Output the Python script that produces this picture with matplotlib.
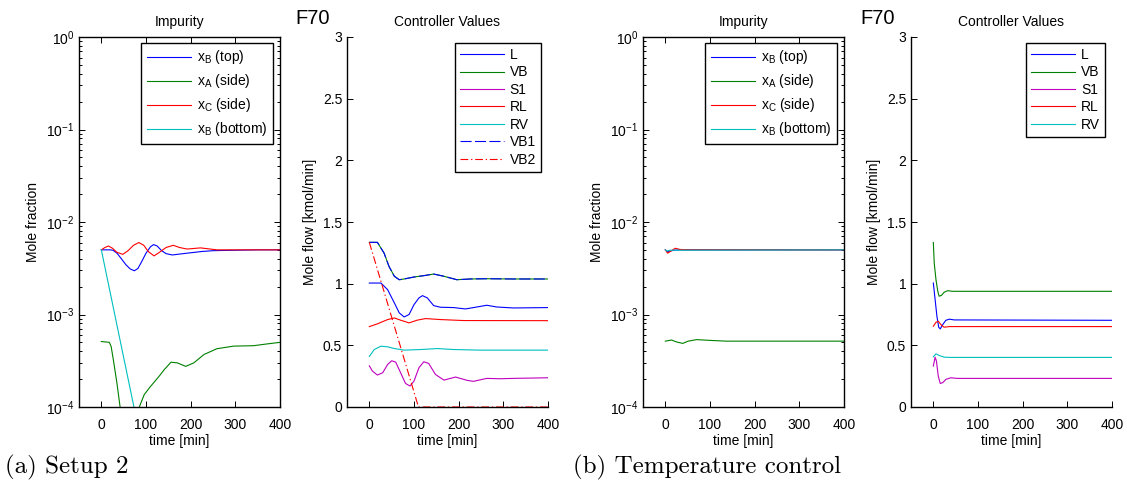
import matplotlib
matplotlib.use("Agg")
import matplotlib.pyplot as plt
from matplotlib.ticker import LogLocator, NullFormatter

plt.rcParams['font.family'] = ['Liberation Sans', 'DejaVu Sans']
plt.rcParams['mathtext.default'] = 'regular'
plt.rcParams['mathtext.fontset'] = 'custom'
plt.rcParams['mathtext.rm'] = 'Liberation Sans'
plt.rcParams['mathtext.it'] = 'Liberation Sans'

# ---------------- colours (MATLAB style) ----------------
C_BLUE = (0, 0, 1)
C_GREEN = (0, 0.5, 0)
C_RED = (1, 0, 0)
C_CYAN = (0, 0.75, 0.75)
C_MAG = (0.75, 0, 0.75)

# ---------------- data: (a) Setup 2, impurity ----------------
a_xB_top_t = [0, 10, 20, 26, 35, 45, 55, 65, 74, 82, 90, 100, 110, 117, 125, 135, 145, 159, 175, 200, 225, 251, 300, 350, 400]
a_xB_top_v = [5.0e-3, 5.0e-3, 5.0e-3, 4.95e-3, 4.6e-3, 4.0e-3, 3.45e-3, 3.1e-3, 2.97e-3, 3.15e-3, 3.7e-3, 4.6e-3, 5.4e-3, 5.7e-3, 5.5e-3, 4.9e-3, 4.55e-3, 4.4e-3, 4.5e-3, 4.65e-3, 4.8e-3, 4.9e-3, 4.95e-3, 5.0e-3, 5.0e-3]

a_xA_side_t = [0, 10, 18, 22, 28, 35, 42, 48, 80, 85, 96, 108, 120, 131, 141, 156, 170, 189, 207, 230, 259, 296, 341, 370, 400]
a_xA_side_v = [5.1e-4, 5.05e-4, 5.0e-4, 4.5e-4, 3.0e-4, 1.8e-4, 1.0e-4, 6.5e-5, 7.0e-5, 1.0e-4, 1.36e-4, 1.62e-4, 1.9e-4, 2.2e-4, 2.54e-4, 3.05e-4, 3.0e-4, 2.75e-4, 3.0e-4, 3.7e-4, 4.27e-4, 4.55e-4, 4.6e-4, 4.8e-4, 5.0e-4]

a_xC_side_t = [0, 8, 16, 25, 35, 48, 60, 72, 84, 95, 105, 118, 130, 145, 161, 175, 192, 222, 259, 300, 400]
a_xC_side_v = [5.0e-3, 5.3e-3, 5.5e-3, 5.2e-3, 4.7e-3, 4.47e-3, 4.9e-3, 5.6e-3, 6.0e-3, 5.6e-3, 4.8e-3, 4.3e-3, 4.7e-3, 5.3e-3, 5.6e-3, 5.3e-3, 5.1e-3, 5.25e-3, 5.0e-3, 5.0e-3, 5.0e-3]

a_xB_bot_t = [0, 73, 80]
a_xB_bot_v = [5.0e-3, 1.0e-4, 6.9e-5]

# ---------------- data: (a) Setup 2, controller values ----------------
a_L_t = [0, 26, 41, 56, 67, 78, 89, 100, 111, 119, 130, 144, 159, 189, 215, 233, 263, 285, 322, 400]
a_L_v = [1.005, 1.005, 0.951, 0.844, 0.763, 0.730, 0.750, 0.830, 0.884, 0.903, 0.884, 0.822, 0.809, 0.806, 0.795, 0.806, 0.825, 0.811, 0.803, 0.806]

a_VB_t = [0, 18, 33, 44, 56, 67, 78, 100, 122, 144, 167, 196, 226, 263, 322, 400]
a_VB_v = [1.335, 1.335, 1.248, 1.140, 1.060, 1.032, 1.038, 1.054, 1.065, 1.078, 1.060, 1.032, 1.038, 1.040, 1.038, 1.038]

a_S1_t = [0, 7, 18, 30, 41, 50, 59, 70, 81, 91, 100, 111, 122, 133, 148, 167, 193, 219, 233, 263, 293, 322, 400]
a_S1_v = [0.334, 0.291, 0.259, 0.278, 0.345, 0.375, 0.364, 0.278, 0.191, 0.170, 0.210, 0.318, 0.367, 0.353, 0.264, 0.218, 0.243, 0.216, 0.208, 0.232, 0.229, 0.232, 0.237]

a_RL_t = [0, 18, 41, 56, 70, 89, 107, 126, 159, 211, 400]
a_RL_v = [0.652, 0.674, 0.709, 0.722, 0.704, 0.682, 0.704, 0.717, 0.709, 0.701, 0.700]

a_RV_t = [0, 11, 26, 41, 56, 78, 115, 152, 189, 248, 400]
a_RV_v = [0.410, 0.466, 0.493, 0.488, 0.474, 0.461, 0.466, 0.474, 0.466, 0.461, 0.461]

a_VB1_t = a_VB_t
a_VB1_v = a_VB_v

a_VB2_t = [0, 110, 400]
a_VB2_v = [1.335, 0.0, 0.0]

# ---------------- data: (b) Temperature control, impurity ----------------
b_xB_top_t = [0, 4.5, 14, 30, 400]
b_xB_top_v = [5.0e-3, 4.75e-3, 4.9e-3, 5.0e-3, 5.0e-3]

b_xA_side_t = [0, 14, 25, 39, 51, 70, 100, 137, 400]
b_xA_side_v = [5.15e-4, 5.3e-4, 5.05e-4, 4.87e-4, 5.15e-4, 5.35e-4, 5.25e-4, 5.15e-4, 5.15e-4]

b_xC_side_t = [0, 5, 14, 22, 33, 50, 400]
b_xC_side_v = [5.0e-3, 4.6e-3, 4.9e-3, 5.2e-3, 5.05e-3, 5.0e-3, 5.0e-3]

b_xB_bot_t = [0, 3, 10, 400]
b_xB_bot_v = [5.0e-3, 4.85e-3, 4.95e-3, 5.0e-3]

# ---------------- data: (b) Temperature control, controller values ----------------
b_L_t = [0, 4, 8, 12, 15.5, 21, 28, 36, 47, 400]
b_L_v = [1.005, 0.871, 0.736, 0.647, 0.633, 0.668, 0.703, 0.712, 0.706, 0.703]

b_VB_t = [0, 2, 6, 10, 13, 18.5, 24, 32, 43, 400]
b_VB_v = [1.334, 1.167, 1.030, 0.938, 0.898, 0.906, 0.930, 0.943, 0.938, 0.938]

b_S1_t = [0, 4, 7, 11, 15.5, 21, 28, 39, 54, 400]
b_S1_v = [0.332, 0.404, 0.372, 0.251, 0.191, 0.197, 0.224, 0.237, 0.232, 0.232]

b_RL_t = [0, 6, 11, 17, 24, 36, 400]
b_RL_v = [0.655, 0.687, 0.695, 0.668, 0.647, 0.652, 0.652]

b_RV_t = [0, 6, 13, 24, 39, 400]
b_RV_v = [0.407, 0.431, 0.418, 0.404, 0.402, 0.402]

imp_labels = [r'x$_{B}$ (top)', r'x$_{A}$ (side)', r'x$_{C}$ (side)', r'x$_{B}$ (bottom)']
ctrl_labels_a = ['L', 'VB', 'S1', 'RL', 'RV', 'VB1', 'VB2']
ctrl_labels_b = ['L', 'VB', 'S1', 'RL', 'RV']
xticks = [0, 100, 200, 300, 400]
flow_ticks = [0, 0.5, 1, 1.5, 2, 2.5, 3]
caption_a = '(a) Setup 2'
caption_b = '(b) Temperature control'

FS = 10
LW = 0.8

fig = plt.figure(figsize=(11.27, 4.88), dpi=100)
W, H = 1127.0, 488.0

def ax_at(left_px):
    return fig.add_axes([left_px / W, (H - 407) / H, 201 / W, 370 / H])

def style_imp(ax):
    ax.set_yscale('log')
    ax.set_xlim(-50, 400)
    ax.set_ylim(1e-4, 1)
    ax.set_xticks(xticks)
    ax.yaxis.set_major_locator(LogLocator(base=10, numticks=10))
    ax.yaxis.set_minor_locator(LogLocator(base=10, subs=range(2, 10), numticks=20))
    ax.yaxis.set_minor_formatter(NullFormatter())
    ax.tick_params(which='both', direction='in', top=True, right=True, labelsize=FS, width=0.7)
    ax.tick_params(which='major', length=4)
    ax.tick_params(which='minor', length=2)
    ax.tick_params(axis='x', pad=8)
    ax.set_title('Impurity', fontsize=FS, pad=8)
    ax.set_xlabel('time [min]', fontsize=FS, labelpad=1)
    ax.set_ylabel('Mole fraction', fontsize=FS, labelpad=4)
    for s in ax.spines.values():
        s.set_linewidth(1.0)

def style_ctrl(ax):
    ax.set_xlim(-50, 400)
    ax.set_ylim(0, 3)
    ax.set_xticks(xticks)
    ax.set_yticks(flow_ticks)
    ax.set_yticklabels(['0', '0.5', '1', '1.5', '2', '2.5', '3'])
    ax.spines['top'].set_visible(False)
    ax.spines['right'].set_visible(False)
    ax.tick_params(which='both', direction='in', labelsize=FS, length=4, width=0.7)
    ax.tick_params(axis='x', pad=8)
    ax.set_title('Controller Values', fontsize=FS, pad=8)
    ax.set_xlabel('time [min]', fontsize=FS, labelpad=1)
    ax.set_ylabel('Mole flow [kmol/min]', fontsize=FS, labelpad=4)
    for s in ax.spines.values():
        s.set_linewidth(1.0)

def add_legend(ax, handles, labels, spacing, bpad):
    lg = ax.legend(handles, labels, loc='upper right', bbox_to_anchor=(0.965, 0.984),
                   borderaxespad=0, fontsize=FS, handlelength=3.2, handletextpad=0.4,
                   labelspacing=spacing, borderpad=bpad, fancybox=False, framealpha=1,
                   edgecolor='black')
    lg.get_frame().set_linewidth(1.0)
    return lg

# (a) impurity
ax1 = ax_at(79)
l1, = ax1.plot(a_xB_top_t, a_xB_top_v, color=C_BLUE, lw=LW)
l2, = ax1.plot(a_xA_side_t, a_xA_side_v, color=C_GREEN, lw=LW)
l3, = ax1.plot(a_xC_side_t, a_xC_side_v, color=C_RED, lw=LW)
l4, = ax1.plot(a_xB_bot_t, a_xB_bot_v, color=C_CYAN, lw=LW)
style_imp(ax1)
add_legend(ax1, [l1, l2, l3, l4], imp_labels, 0.43, 0.4)

# (a) controller
ax2 = ax_at(347)
h = []
h.append(ax2.plot(a_L_t, a_L_v, color=C_BLUE, lw=LW)[0])
h.append(ax2.plot(a_VB_t, a_VB_v, color=C_GREEN, lw=LW)[0])
h.append(ax2.plot(a_S1_t, a_S1_v, color=C_MAG, lw=LW)[0])
h.append(ax2.plot(a_RL_t, a_RL_v, color=C_RED, lw=LW)[0])
h.append(ax2.plot(a_RV_t, a_RV_v, color=C_CYAN, lw=LW)[0])
h.append(ax2.plot(a_VB1_t, a_VB1_v, color=C_BLUE, lw=LW, ls=(0, (10, 3)))[0])
h.append(ax2.plot(a_VB2_t, a_VB2_v, color=C_RED, lw=LW, ls=(0, (7, 2.5, 1.2, 2.5)), clip_on=False)[0])
style_ctrl(ax2)
add_legend(ax2, h, ctrl_labels_a, 0.25, 0.36)
fig.text(313 / W, 1 - 18 / H, 'F70', fontsize=14.5, ha='center', va='center')

# (b) impurity
ax3 = ax_at(643)
m1, = ax3.plot(b_xB_top_t, b_xB_top_v, color=C_BLUE, lw=LW)
m2, = ax3.plot(b_xA_side_t, b_xA_side_v, color=C_GREEN, lw=LW)
m3, = ax3.plot(b_xC_side_t, b_xC_side_v, color=C_RED, lw=LW)
m4, = ax3.plot(b_xB_bot_t, b_xB_bot_v, color=C_CYAN, lw=LW)
style_imp(ax3)
add_legend(ax3, [m1, m2, m3, m4], imp_labels, 0.43, 0.4)

# (b) controller
ax4 = ax_at(911)
g = []
g.append(ax4.plot(b_L_t, b_L_v, color=C_BLUE, lw=LW)[0])
g.append(ax4.plot(b_VB_t, b_VB_v, color=C_GREEN, lw=LW)[0])
g.append(ax4.plot(b_S1_t, b_S1_v, color=C_MAG, lw=LW)[0])
g.append(ax4.plot(b_RL_t, b_RL_v, color=C_RED, lw=LW)[0])
g.append(ax4.plot(b_RV_t, b_RV_v, color=C_CYAN, lw=LW)[0])
style_ctrl(ax4)
add_legend(ax4, g, ctrl_labels_b, 0.25, 0.36)
fig.text(878 / W, 1 - 18 / H, 'F70', fontsize=14.5, ha='center', va='center')

# captions
fig.text(5 / W, 1 - 467 / H, caption_a, fontsize=18, family='cmr10', ha='left', va='center')
fig.text(573 / W, 1 - 467 / H, caption_b, fontsize=18, family='cmr10', ha='left', va='center')

fig.savefig('out.png', dpi=100)
